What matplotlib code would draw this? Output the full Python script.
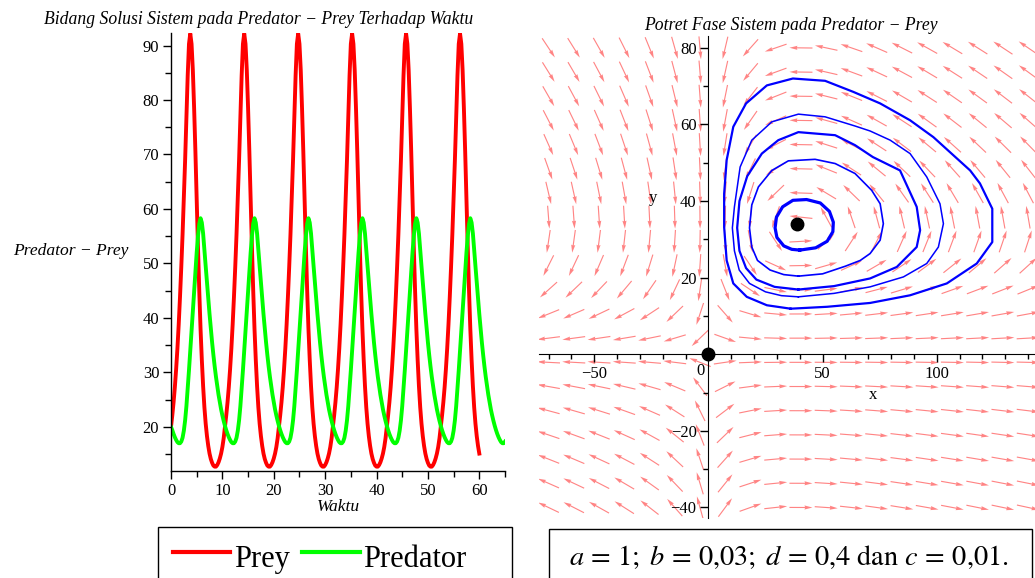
import numpy as np
import matplotlib
matplotlib.use('Agg')
import matplotlib.pyplot as plt
from matplotlib.patches import Rectangle
from matplotlib.lines import Line2D

plt.rcParams['font.family'] = ['Liberation Serif', 'DejaVu Serif']
plt.rcParams['mathtext.fontset'] = 'stix'

# model parameters shown in the chart
a, b, d, c = 1.0, 0.03, 0.4, 0.01

# time series, one value every 0.25 time unit
dt = 0.25
prey = [
    20.0, 22.1, 24.5, 27.3, 30.6, 34.4, 38.8, 43.8, 49.3, 55.3, 62.0, 69.0, 77.0, 84.5, 90.3,
    92.2, 90.3, 85.5, 78.5, 70.5, 61.5, 53.0, 45.0, 38.0, 32.3, 27.5, 23.6, 20.6, 18.3, 16.5, 15.1, 14.1, 13.4, 12.9, 12.7, 12.7,
    13.0, 13.5, 14.2, 15.1, 16.3, 17.9, 20.0, 22.1, 24.5, 27.3, 30.6, 34.4, 38.8, 43.8, 49.3, 55.3, 62.0, 69.0, 77.0, 84.5, 90.3,
    92.2, 90.3, 85.5, 78.5, 70.5, 61.5, 53.0, 45.0, 38.0, 32.3, 27.5, 23.6, 20.6, 18.3, 16.5, 15.1, 14.1, 13.4, 12.9, 12.7, 12.7,
    13.0, 13.5, 14.2, 15.1, 16.3, 17.9, 20.0, 22.1, 24.5, 27.3, 30.6, 34.4, 38.8, 43.8, 49.3, 55.3, 62.0, 69.0, 77.0, 84.5, 90.3,
    92.2, 90.3, 85.5, 78.5, 70.5, 61.5, 53.0, 45.0, 38.0, 32.3, 27.5, 23.6, 20.6, 18.3, 16.5, 15.1, 14.1, 13.4, 12.9, 12.7, 12.7,
    13.0, 13.5, 14.2, 15.1, 16.3, 17.9, 20.0, 22.1, 24.5, 27.3, 30.6, 34.4, 38.8, 43.8, 49.3, 55.3, 62.0, 69.0, 77.0, 84.5, 90.3,
    92.2, 90.3, 85.5, 78.5, 70.5, 61.5, 53.0, 45.0, 38.0, 32.3, 27.5, 23.6, 20.6, 18.3, 16.5, 15.1, 14.1, 13.4, 12.9, 12.7, 12.7,
    13.0, 13.5, 14.2, 15.1, 16.3, 17.9, 20.0, 22.1, 24.5, 27.3, 30.6, 34.4, 38.8, 43.8, 49.3, 55.3, 62.0, 69.0, 77.0, 84.5, 90.3,
    92.2, 90.3, 85.5, 78.5, 70.5, 61.5, 53.0, 45.0, 38.0, 32.3, 27.5, 23.6, 20.6, 18.3, 16.5, 15.1, 14.1, 13.4, 12.9, 12.7, 12.7,
    13.0, 13.5, 14.2, 15.1, 16.3, 17.9, 20.0, 22.1, 24.5, 27.3, 30.6, 34.4, 38.8, 43.8, 49.3, 55.3, 62.0, 69.0, 77.0, 84.5, 90.3,
    92.2, 90.3, 85.5, 78.5, 70.5, 61.5, 53.0, 45.0, 38.0, 32.3, 27.5, 23.6, 20.6, 18.3, 16.5, 15.1,
]
predator = [
    20.0, 19.4, 18.7, 18.1, 17.6, 17.2, 17.0, 17.0, 17.3, 18.0, 19.3, 21.2, 23.8, 27.0, 30.4,
    34.0, 37.5, 41.0, 44.8, 48.5, 52.0, 55.0, 57.3, 58.3, 57.5, 55.5, 52.6, 49.5, 46.5, 43.6, 40.7, 38.0, 35.5, 33.2, 31.1, 29.2,
    27.5, 25.9, 24.5, 23.2, 22.1, 21.1, 20.2, 19.4, 18.7, 18.1, 17.6, 17.2, 17.0, 17.0, 17.3, 18.0, 19.3, 21.2, 23.8, 27.0, 30.4,
    34.0, 37.5, 41.0, 44.8, 48.5, 52.0, 55.0, 57.3, 58.3, 57.5, 55.5, 52.6, 49.5, 46.5, 43.6, 40.7, 38.0, 35.5, 33.2, 31.1, 29.2,
    27.5, 25.9, 24.5, 23.2, 22.1, 21.1, 20.2, 19.4, 18.7, 18.1, 17.6, 17.2, 17.0, 17.0, 17.3, 18.0, 19.3, 21.2, 23.8, 27.0, 30.4,
    34.0, 37.5, 41.0, 44.8, 48.5, 52.0, 55.0, 57.3, 58.3, 57.5, 55.5, 52.6, 49.5, 46.5, 43.6, 40.7, 38.0, 35.5, 33.2, 31.1, 29.2,
    27.5, 25.9, 24.5, 23.2, 22.1, 21.1, 20.2, 19.4, 18.7, 18.1, 17.6, 17.2, 17.0, 17.0, 17.3, 18.0, 19.3, 21.2, 23.8, 27.0, 30.4,
    34.0, 37.5, 41.0, 44.8, 48.5, 52.0, 55.0, 57.3, 58.3, 57.5, 55.5, 52.6, 49.5, 46.5, 43.6, 40.7, 38.0, 35.5, 33.2, 31.1, 29.2,
    27.5, 25.9, 24.5, 23.2, 22.1, 21.1, 20.2, 19.4, 18.7, 18.1, 17.6, 17.2, 17.0, 17.0, 17.3, 18.0, 19.3, 21.2, 23.8, 27.0, 30.4,
    34.0, 37.5, 41.0, 44.8, 48.5, 52.0, 55.0, 57.3, 58.3, 57.5, 55.5, 52.6, 49.5, 46.5, 43.6, 40.7, 38.0, 35.5, 33.2, 31.1, 29.2,
    27.5, 25.9, 24.5, 23.2, 22.1, 21.1, 20.2, 19.4, 18.7, 18.1, 17.6, 17.2, 17.0, 17.0, 17.3, 18.0, 19.3, 21.2, 23.8, 27.0, 30.4,
    34.0, 37.5, 41.0, 44.8, 48.5, 52.0, 55.0, 57.3, 58.3, 57.5, 55.5, 52.6, 49.5, 46.5, 43.6, 40.7, 38.0, 35.5, 33.2, 31.1, 29.2,
    27.5, 25.9, 24.5, 23.2, 22.1, 21.1, 20.2, 19.4, 18.7, 18.1, 17.6, 17.2, 17.0, 17.0, 17.3,
]

# phase portrait trajectories
orbit_a_x = [36.0, 52.0, 70.8, 88.3, 104.4, 117.5, 124.3, 124.3, 118.9, 114.6, 98.5, 88.3, 75.2, 63.5,
             51.1, 37.0, 25.6, 16.5, 10.9, 8.0, 6.9, 6.9, 8.0, 10.9, 16.8, 25.6, 36.0]
orbit_a_y = [11.9, 12.4, 13.4, 15.4, 18.5, 23.7, 29.3, 38.0, 44.6, 48.0, 56.7, 61.1, 65.5, 68.5,
             71.4, 72.0, 70.2, 65.5, 59.4, 50.7, 41.9, 33.2, 24.5, 18.5, 15.0, 12.8, 11.9]
orbit_b_x = [39.4, 55.0, 70.8, 85.4, 95.6, 100.7, 102.9, 101.4, 95.6, 88.3, 79.6, 70.8, 64.2, 51.1,
             39.4, 27.8, 19.0, 13.9, 11.4, 10.5, 11.4, 13.5, 18.0, 25.0, 32.0, 39.4]
orbit_b_y = [15.0, 15.9, 17.6, 20.2, 23.7, 28.0, 34.1, 39.3, 46.3, 52.4, 55.9, 58.3, 59.6, 62.0,
             62.7, 60.7, 55.9, 48.9, 38.5, 33.0, 27.0, 22.0, 18.5, 16.3, 15.3, 15.0]
orbit_c_x = [39.4, 55.0, 70.8, 82.5, 91.2, 92.7, 91.2, 83.9, 72.0, 64.2, 55.5, 39.4, 30.6, 23.4,
             17.0, 13.6, 12.6, 13.6, 16.5, 21.0, 29.0, 39.4]
orbit_c_y = [16.9, 17.8, 19.8, 22.8, 28.0, 32.4, 38.5, 48.0, 51.5, 54.6, 57.2, 58.0, 55.9, 52.4,
             46.5, 40.0, 33.0, 27.0, 22.5, 19.5, 17.6, 16.9]
orbit_d_x = [39.4, 50.0, 60.0, 66.5, 70.8, 75.2, 76.6, 75.2, 71.5, 64.2, 55.5, 46.7, 35.0, 27.8,
             21.9, 19.0, 18.0, 19.0, 21.5, 27.0, 33.0, 39.4]
orbit_d_y = [20.4, 21.0, 23.0, 24.5, 26.3, 29.8, 34.1, 39.3, 42.8, 47.2, 49.8, 50.9, 50.5, 48.0,
             43.7, 39.0, 33.0, 28.0, 24.5, 22.0, 20.8, 20.4]
orbit_e_x = [40.0, 47.0, 52.0, 54.5, 54.7, 53.0, 49.0, 43.0, 37.0, 32.5, 29.8, 29.2, 30.0, 33.0, 36.5, 40.0]
orbit_e_y = [27.2, 27.8, 29.5, 32.0, 34.5, 37.3, 39.5, 40.4, 40.2, 38.5, 35.8, 33.0, 30.5, 28.3, 27.4, 27.2]

# equilibrium points
eq_x = [0, 39]
eq_y = [0, 34]

W, H = 1035, 578
fig = plt.figure(figsize=(W / 100, H / 100), dpi=100)

# ---------------- left: solution vs time ----------------
ax1 = fig.add_axes([171 / W, 1 - 471 / H, 334 / W, 438 / H])
t_prey = np.arange(len(prey)) * dt
t_pred = np.arange(len(predator)) * dt
ax1.plot(t_prey, prey, color='#ff0000', lw=2.8, solid_joinstyle='round')
ax1.plot(t_pred, predator, color='#00ff00', lw=2.8, solid_joinstyle='round')
ax1.set_xlim(0, 65)
ax1.set_ylim(11.9, 92.3)
ax1.set_xticks(range(0, 61, 10))
ax1.set_xticks(range(5, 66, 10), minor=True)
ax1.set_yticks(range(20, 91, 10))
ax1.set_yticks(range(15, 91, 10), minor=True)
for s in ['top', 'right']:
    ax1.spines[s].set_visible(False)
for s in ['left', 'bottom']:
    ax1.spines[s].set_linewidth(1.0)
ax1.tick_params(which='both', direction='out', width=1.0, labelsize=12, pad=3)
ax1.tick_params(which='major', length=5.5)
ax1.tick_params(which='minor', length=4.5)

fig.text(259 / W, 1 - 19 / H, 'Bidang Solusi Sistem pada Predator \u2212 Prey Terhadap Waktu',
         style='italic', fontsize=12.7, ha='center', va='center')
fig.text(13 / W, 1 - 251 / H, 'Predator \u2212 Prey', style='italic', fontsize=12.6,
         ha='left', va='center')
fig.text(338 / W, 1 - 507 / H, 'Waktu', style='italic', fontsize=12.6, ha='center', va='center')

# ---------------- right: phase portrait ----------------
x0, x1, y0, y1 = -74, 143, -42.8, 83.1
axw_px, axh_px = (x1 - x0) * 2.284, (y1 - y0) * 3.83
ax2 = fig.add_axes([(W - axw_px) / W, 1 - 518.2 / H, axw_px / W, axh_px / H])
ax2.set_xlim(x0, x1)
ax2.set_ylim(y0, y1)

sx = axw_px / (x1 - x0)
sy = axh_px / (y1 - y0)
gx, gy = np.meshgrid(np.linspace(-70, 140, 20), np.linspace(-40, 80, 20))
fx = a * gx - b * gx * gy
fy = -d * gy + c * gx * gy
px, py = fx * sx, fy * sy
n = np.hypot(px, py)
L = 23.0
U = L * px / n / sx
V = L * py / n / sy
ax2.quiver(gx, gy, U, V, angles='xy', scale_units='xy', scale=1, pivot='middle',
           color='#ff5050', alpha=0.7, width=0.0023, headwidth=3.6, headlength=7,
           headaxislength=6.5, zorder=1)

for ox, oy, lw in [(orbit_a_x, orbit_a_y, 1.6), (orbit_b_x, orbit_b_y, 1.1),
                   (orbit_c_x, orbit_c_y, 1.6), (orbit_d_x, orbit_d_y, 1.2),
                   (orbit_e_x, orbit_e_y, 2.3)]:
    ax2.plot(ox, oy, color='#0000ff', lw=lw, zorder=2)

ax2.plot(eq_x, eq_y, 'o', color='black', ms=9, zorder=4, clip_on=False)

for s in ['top', 'right']:
    ax2.spines[s].set_visible(False)
ax2.spines['left'].set_position(('data', 0))
ax2.spines['bottom'].set_position(('data', 0))
ax2.set_xticks([-50, 50, 100])
ax2.set_xticks(range(-70, 141, 10), minor=True)
ax2.set_yticks([-40, -20, 20, 40, 60, 80])
ax2.set_yticks(range(-40, 81, 10), minor=True)
ax2.tick_params(which='both', direction='out', width=1.0, labelsize=12, pad=3)
ax2.tick_params(which='major', length=5.5)
ax2.tick_params(which='minor', length=3.5)
ax2.text(-3.3, -4.3, '0', fontsize=12, ha='center', va='center')
ax2.text(-24.2, 40.7, 'y', fontsize=12, ha='center', va='center')
ax2.text(72.2, -10.6, 'x', fontsize=12, ha='center', va='center')

fig.text(790.8 / W, 1 - 25 / H, 'Potret Fase Sistem pada Predator \u2212 Prey',
         style='italic', fontsize=12.7, ha='center', va='center')

# ---------------- boxes under the panels ----------------
fig.patches.append(Rectangle((158.3 / W, -0.05), 353.4 / W, 0.05 + (H - 527.3) / H,
                             transform=fig.transFigure, fill=False, ec='black', lw=1.0))
fig.lines.append(Line2D([172.7 / W, 230 / W], [1 - 551.7 / H] * 2, transform=fig.transFigure,
                        color='#ff0000', lw=3.0))
fig.lines.append(Line2D([301.7 / W, 360 / W], [1 - 551.7 / H] * 2, transform=fig.transFigure,
                        color='#00ff00', lw=3.0))
fig.text(234.3 / W, 1 - 566.7 / H, 'Prey', fontsize=22, ha='left', va='baseline')
fig.text(362.7 / W, 1 - 566.7 / H, 'Predator', fontsize=22, ha='left', va='baseline')

fig.patches.append(Rectangle((549 / W, -0.05), 482.7 / W, 0.05 + (H - 529.3) / H,
                             transform=fig.transFigure, fill=False, ec='black', lw=1.0))
fig.text(789 / W, 1 - 565 / H,
         r'$a\,=\,1;\;b\,=\,0{,}03;\;d\,=\,0{,}4$ dan $c\,=\,0{,}01.$',
         fontsize=20.4, family='STIXGeneral', ha='center', va='baseline')

fig.savefig('out.png', dpi=100)
